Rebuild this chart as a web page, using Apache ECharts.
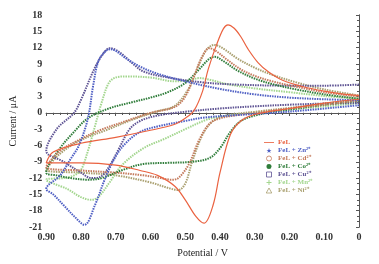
<!DOCTYPE html>
<html>
<head>
<meta charset="utf-8">
<script src="https://cdn.jsdelivr.net/npm/echarts@6/dist/echarts.min.js"></script>
<style>
  html, body { margin: 0; padding: 0; background: #fff; }
  #chart { width: 379px; height: 264px; }
</style>
</head>
<body>
<div id="chart"></div>
<script>
// 各曲线数据 [电位 / V, 电流 / μA]，沿扫描方向排列（0 → 0.9 → 0）
const feL = [
  [0.00, 2.5], [0.10, 1.8], [0.20, 0.8], [0.30, -0.3], [0.34, -1.5], [0.37, -4], [0.40, -11],
  [0.42, -17], [0.446, -20.3], [0.47, -19], [0.50, -16], [0.53, -13.5], [0.58, -11.5],
  [0.63, -10.6], [0.70, -9.6], [0.80, -9.2], [0.90, -9.2],
  [0.88, -7.2], [0.80, -5.6], [0.70, -4.5], [0.60, -3.2], [0.534, -2.2], [0.50, -1], [0.474, 0.5],
  [0.45, 4], [0.434, 8], [0.41, 12.5], [0.39, 15.5], [0.377, 16.2], [0.36, 15.6], [0.34, 14],
  [0.32, 11.8], [0.29, 9.2], [0.26, 7.5], [0.22, 6], [0.16, 4.8], [0.10, 4.0], [0.05, 3.5], [0.00, 3.2]
]
const feLZn = [
  [0.00, 1.4], [0.15, 0.5], [0.25, 0], [0.35, -0.4], [0.45, -0.9], [0.50, -1.5], [0.58, -2.5],
  [0.63, -3.5], [0.67, -5.5], [0.70, -8], [0.73, -12], [0.76, -17], [0.79, -20.6], [0.82, -19],
  [0.85, -17], [0.88, -15], [0.90, -14],
  [0.86, -11.5], [0.83, -8.5], [0.806, -6], [0.78, -1], [0.765, 5], [0.75, 9.5], [0.73, 11.3],
  [0.715, 11.7], [0.70, 11.4], [0.67, 10], [0.63, 8.5], [0.58, 7.2], [0.50, 5.8], [0.40, 4.4],
  [0.30, 3.4], [0.20, 2.8], [0.10, 2.5], [0.00, 2.3]
]
const feLCd = [
  [0.00, 2.3], [0.10, 1.5], [0.20, 0.8], [0.30, 0], [0.36, -0.5], [0.40, -1], [0.43, -2],
  [0.46, -5], [0.49, -9.5], [0.52, -12], [0.54, -12.3], [0.57, -12], [0.62, -11.5], [0.70, -11],
  [0.80, -10.6], [0.90, -10],
  [0.86, -7], [0.80, -4.8], [0.75, -3.3], [0.67, -1.5], [0.60, 0], [0.53, 1.1], [0.50, 3],
  [0.47, 7.5], [0.45, 10.5], [0.431, 11.9], [0.41, 11.3], [0.38, 9.8], [0.34, 8], [0.30, 6.8],
  [0.25, 5.8], [0.18, 4.8], [0.10, 3.8], [0.00, 3.0]
]
const feLCo = [
  [0.00, 2.2], [0.10, 1.5], [0.20, 0.6], [0.25, 0.2], [0.30, -0.5], [0.34, -1.5], [0.37, -3.5],
  [0.40, -6.5], [0.43, -8.3], [0.48, -9], [0.55, -9.2], [0.62, -9.4], [0.68, -10.5], [0.74, -12],
  [0.78, -12.3], [0.83, -12], [0.87, -11.5], [0.90, -11],
  [0.86, -6.5], [0.82, -3.5], [0.78, -1], [0.72, 0.8], [0.65, 2], [0.60, 2.8], [0.55, 3.8],
  [0.50, 5.5], [0.46, 8], [0.43, 10], [0.415, 10.3], [0.39, 9.5], [0.35, 7.8], [0.30, 6.3],
  [0.25, 5.3], [0.18, 4.3], [0.10, 3.4], [0.00, 2.6]
]
const feLCu = [
  [0.00, 1.8], [0.10, 1.7], [0.20, 1.5], [0.30, 1.2], [0.40, 0.8], [0.50, 0.2], [0.58, -0.5],
  [0.63, -1.5], [0.66, -3], [0.69, -6.5], [0.72, -10], [0.745, -11.8], [0.77, -12], [0.80, -11],
  [0.85, -9], [0.90, -7],
  [0.87, -3], [0.82, 0], [0.80, 2.4], [0.763, 7.9], [0.74, 10.5], [0.717, 11.9], [0.69, 11.2],
  [0.65, 9], [0.62, 7.6], [0.55, 6.5], [0.45, 5.6], [0.35, 5.2], [0.20, 5.0], [0.10, 5.0], [0.00, 5.2]
]
const feLMn = [
  [0.00, 1.8], [0.10, 1.2], [0.20, 0.6], [0.30, 0], [0.40, -0.7], [0.44, -1.3], [0.50, -3],
  [0.56, -4.8], [0.62, -6.5], [0.68, -9.5], [0.72, -13], [0.75, -15.5], [0.77, -16], [0.80, -15.5],
  [0.84, -14], [0.90, -12.3],
  [0.85, -12], [0.82, -11.5], [0.80, -10.5], [0.78, -7], [0.76, -2.5], [0.74, 2], [0.72, 5.5],
  [0.70, 6.5], [0.67, 6.7], [0.60, 6.5], [0.53, 5.8], [0.49, 6.0], [0.46, 6.4], [0.43, 6.1],
  [0.38, 5.3], [0.30, 4.5], [0.20, 3.8], [0.10, 3.1], [0.00, 2.6]
]
const feLNi = [
  [0.00, 2.5], [0.10, 1.7], [0.20, 0.9], [0.30, 0.2], [0.38, -0.5], [0.42, -1.5], [0.45, -4],
  [0.48, -9], [0.50, -13], [0.52, -14.2], [0.55, -13.8], [0.60, -12.8], [0.70, -11.5],
  [0.80, -11], [0.90, -10.5],
  [0.86, -7.5], [0.80, -5], [0.72, -3], [0.65, -1.2], [0.58, 0.3], [0.53, 1.3], [0.49, 4.5],
  [0.46, 9], [0.44, 11.5], [0.417, 12.5], [0.39, 11.8], [0.35, 10], [0.30, 8.3], [0.25, 7],
  [0.18, 5.6], [0.10, 4.3], [0.00, 3.2]
]

const seriesNames = ['FeL', 'FeL + Zn²⁺', 'FeL + Cd²⁺', 'FeL + Co²⁺', 'FeL + Cu²⁺', 'FeL + Mn²⁺', 'FeL + Ni²⁺']
const seriesColors = ['#ea6240', '#4f5fc4', '#c47a5c', '#2f7d3a', '#5f5494', '#a3d68e', '#aaa070']
const seriesData = [feL, feLZn, feLCd, feLCo, feLCu, feLMn, feLNi]

// 图例图标（路径会保持比例）
const linePath = 'path://M0,0H24V2H0Z'
const starPath = 'path://M5,0L6.2,3.8L10,3.8L7,6.2L8.1,10L5,7.6L1.9,10L3,6.2L0,3.8L3.8,3.8Z'
const plusPath = 'path://M4,0H6V4H10V6H6V10H4V6H0V4H4Z'
const squarePath = 'path://M0,0H10V10H0Z'
const circlePath = 'path://M5,0A5,5,0,1,1,4.99,0Z'
const trianglePath = 'path://M5,0L10,9L0,9Z'
const legendIcons = [linePath, starPath, circlePath, circlePath, squarePath, plusPath, trianglePath]
const legendHollow = [false, false, true, false, true, false, true]

const font = 'Liberation Serif'

let myChart = echarts.init(document.getElementById('chart'))

let legendData = seriesNames.map((n, i) => {
  let item = { name: n, icon: legendIcons[i], textStyle: { color: seriesColors[i] } }
  if (legendHollow[i]) {
    item.itemStyle = { color: '#fff', borderColor: seriesColors[i], borderWidth: 0.8 }
  } else {
    item.itemStyle = { color: seriesColors[i], borderWidth: 0 }
  }
  return item
})

let series = seriesData.map((d, i) => ({
  name: seriesNames[i],
  type: 'line',
  data: d,
  smooth: 0.35,
  symbol: 'none',
  lineStyle: {
    color: seriesColors[i],
    width: i === 0 ? 1.2 : 2,
    type: i === 0 ? 'solid' : [1.5, 1]
  },
  itemStyle: { color: seriesColors[i] },
  z: 10 - i
}))

myChart.setOption({
  backgroundColor: '#fff',
  animation: false,
  textStyle: { fontFamily: font },
  grid: { left: 44, right: 20, top: 15, bottom: 37 },
  legend: {
    orient: 'vertical',
    left: 264,
    top: 139,
    itemGap: 1,
    itemWidth: 10,
    itemHeight: 5,
    padding: 0,
    textStyle: { fontFamily: font, fontSize: 7, fontWeight: 'bold', padding: [0, 0, 0, -1] },
    data: legendData
  },
  xAxis: [{
    type: 'value',
    inverse: true,
    min: 0,
    max: 0.9,
    interval: 0.1,
    name: 'Potential / V',
    nameLocation: 'middle',
    nameGap: 21,
    nameTextStyle: { fontFamily: font, fontSize: 10, color: '#222' },
    axisLine: { lineStyle: { color: '#555', width: 1 } },
    axisTick: { length: 3, lineStyle: { color: '#555' } },
    minorTick: { show: true, splitNumber: 5, length: 2, lineStyle: { color: '#555' } },
    splitLine: { show: false },
    axisLabel: {
      fontFamily: font, fontSize: 10, fontWeight: 'bold', color: '#333', margin: 5,
      formatter: v => v === 0 ? '0' : v.toFixed(2)
    }
  }, {
    type: 'value',
    inverse: true,
    position: 'top',
    min: 0,
    max: 0.9,
    interval: 0.1,
    axisLine: { lineStyle: { color: '#555', width: 1 } },
    axisTick: { inside: true, length: 3, lineStyle: { color: '#555' } },
    minorTick: { show: true, splitNumber: 5, length: 2, lineStyle: { color: '#555' } },
    splitLine: { show: false },
    axisLabel: { show: false }
  }],
  yAxis: [{
    type: 'value',
    min: -21,
    max: 18,
    interval: 3,
    name: 'Current / μA',
    nameLocation: 'middle',
    nameGap: 28,
    nameTextStyle: { fontFamily: font, fontSize: 10, color: '#222' },
    axisLine: { show: true, lineStyle: { color: '#555', width: 1 } },
    axisTick: { show: true, length: 3, lineStyle: { color: '#555' } },
    minorTick: { show: true, splitNumber: 3, length: 2, lineStyle: { color: '#555' } },
    splitLine: { show: false },
    axisLabel: { fontFamily: font, fontSize: 10, fontWeight: 'bold', color: '#333', margin: 4 }
  }, {
    type: 'value',
    position: 'right',
    min: -21,
    max: 18,
    interval: 3,
    axisLine: { show: true, lineStyle: { color: '#555', width: 1 } },
    axisTick: { show: true, inside: true, length: 3, lineStyle: { color: '#555' } },
    minorTick: { show: true, splitNumber: 3, length: 2, lineStyle: { color: '#555' } },
    splitLine: { show: false },
    axisLabel: { show: false }
  }],
  series: series
})
</script>
</body>
</html>
